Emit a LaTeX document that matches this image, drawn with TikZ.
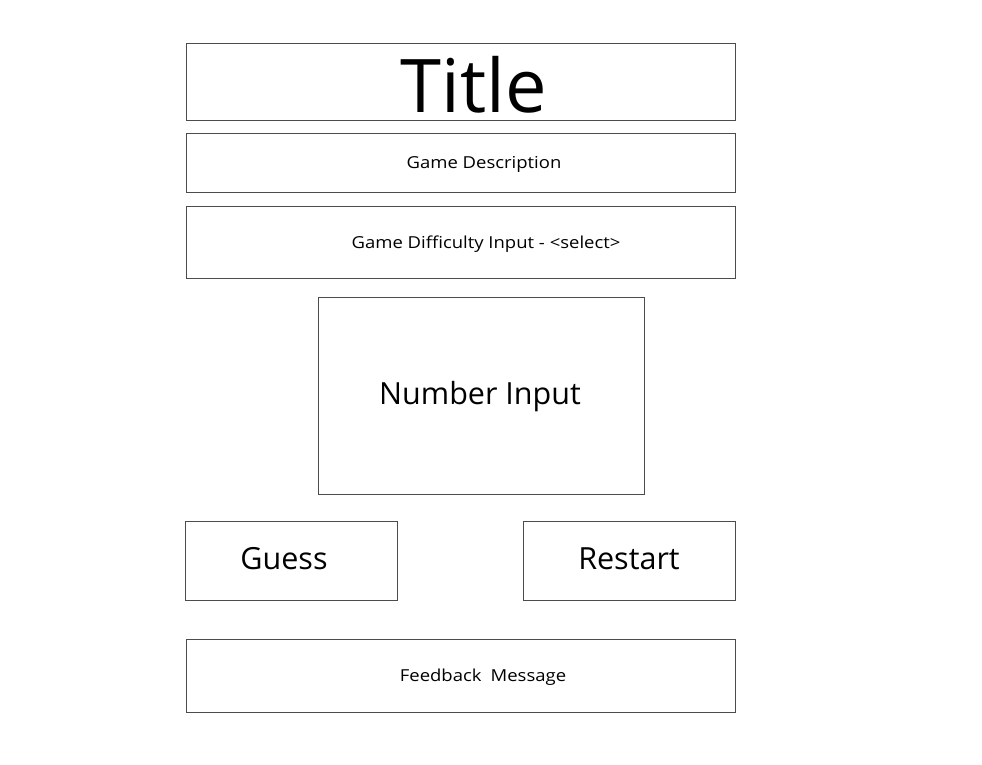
\documentclass[tikz,border=0pt]{standalone}
\usepackage{fontspec}
\setmainfont{Open Sans}
\newfontfamily\widefont{Open Sans}[FakeStretch=1.12]
\begin{document}
\begin{tikzpicture}[x=1pt,y=-1pt,
  box/.style={draw=black!70,line width=0.9pt,rectangle,inner sep=0pt,anchor=north west},
  lbl/.style={inner sep=0pt,anchor=base,text=black},
  small/.style={lbl,font=\widefont\fontsize{16.5}{20}\selectfont},
  big/.style={lbl,font=\fontsize{30.5}{36}\selectfont}]
\useasboundingbox (0,0) rectangle (982,764);
\fill[white] (0,0) rectangle (982,764);
% boxes
\node[box,minimum width=549pt,minimum height=77pt] (title) at (186,43) {};
\node[box,minimum width=549pt,minimum height=59pt] (desc) at (186,133) {};
\node[box,minimum width=549pt,minimum height=72pt] (diff) at (186,206) {};
\node[box,minimum width=326pt,minimum height=197pt] (num) at (318,297) {};
\node[box,minimum width=212pt,minimum height=79pt] (guess) at (185,521) {};
\node[box,minimum width=212pt,minimum height=79pt] (restart) at (523,521) {};
\node[box,minimum width=549pt,minimum height=73pt] (fb) at (186,639) {};
% labels
\node[lbl,font=\fontsize{74}{80}\selectfont] (titlet) at (474,112) {Title};
\node[small] (desct) at (484,168.5) {Game Description};
\node[small] (difft) at (486,248) {Game Difficulty Input - <select>};
\node[big] (numt) at (480,404) {Number Input};
\node[big] (guesst) at (284,569) {Guess};
\node[big] (restartt) at (629,569) {Restart};
\node[small] (fbt) at (483,681.5) {Feedback\hspace{0.55em}Message};
\end{tikzpicture}
\end{document}
